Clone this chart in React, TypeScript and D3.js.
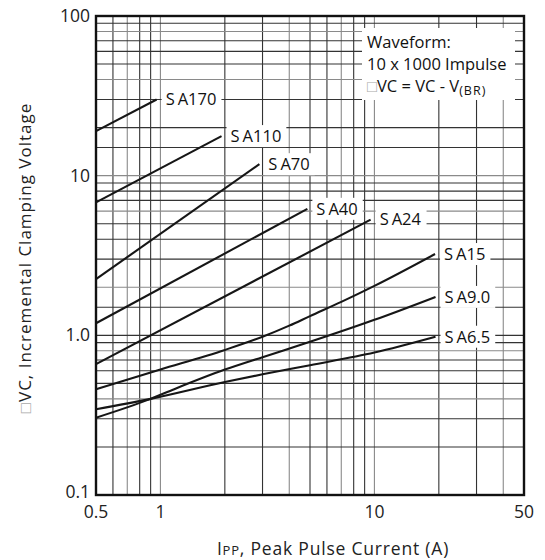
import React, { useEffect, useRef } from 'react';
import * as d3 from 'd3';

// peak pulse current (A) / incremental clamping voltage (V)
const seriesNames = ['SA170', 'SA110', 'SA70', 'SA40', 'SA24', 'SA15', 'SA9.0', 'SA6.5'];

const sa170I = [0.5, 0.96];
const sa170V = [19, 30];
const sa110I = [0.5, 1.93];
const sa110V = [6.8, 17.7];
const sa70I = [0.5, 2.9];
const sa70V = [2.25, 11.8];
const sa40I = [0.5, 4.86];
const sa40V = [1.19, 6.2];
const sa24I = [0.5, 9.6];
const sa24V = [0.66, 5.3];
const sa15I = [0.5, 1, 2, 3, 4, 5, 7, 10, 19.2];
const sa15V = [0.46, 0.61, 0.81, 0.98, 1.15, 1.32, 1.62, 2.04, 3.23];
const sa9I = [0.5, 0.9, 1.16, 2, 3, 5, 10, 19.3];
const sa9V = [0.305, 0.4, 0.46, 0.61, 0.73, 0.91, 1.25, 1.74];
const sa65I = [0.5, 0.9, 2, 3, 5, 10, 19.3];
const sa65V = [0.344, 0.4, 0.51, 0.57, 0.65, 0.78, 0.98];

const xTickValues = [0.5, 1, 10, 50];
const xTickLabels = ['0.5', '1', '10', '50'];
const yTickValues = [0.1, 1, 10, 100];
const yTickLabels = ['0.1', '1.0', '10', '100'];

const xGrid = [0.6, 0.7, 0.8, 0.9, 1, 2, 3, 4, 5, 6, 7, 8, 9, 10, 20, 30, 40];
const yGrid = [
  0.2, 0.3, 0.4, 0.5, 0.6, 0.7, 0.8, 0.9, 1,
  1.5, 2, 3, 4, 5, 6, 7, 8, 9, 10,
  15, 20, 30, 40, 50, 60, 70, 80, 90,
];

const noteLines = ['Waveform:', '10 x 1000 Impulse'];

const FONT = '"Open Sans", sans-serif';

const App: React.FC = () => {
  const ref = useRef<SVGSVGElement | null>(null);

  useEffect(() => {
    const W = 545;
    const H = 560;
    const margin = { top: 16, right: 21, bottom: 65, left: 96 };
    const width = W - margin.left - margin.right;
    const height = H - margin.top - margin.bottom;

    const root = d3.select(ref.current);
    root.selectAll('*').remove();
    root.attr('width', W).attr('height', H);

    const svg = root.append('g').attr('transform', `translate(${margin.left},${margin.top})`);

    const x = d3.scaleLog().domain([0.5, 50]).range([0, width]);
    const y = d3.scaleLog().domain([0.1, 100]).range([height, 0]);

    // grid
    svg.append('g')
      .selectAll('line')
      .data(xGrid)
      .enter()
      .append('line')
      .attr('x1', (d) => x(d))
      .attr('x2', (d) => x(d))
      .attr('y1', 0)
      .attr('y2', height)
      .attr('stroke', (d, i) => (i % 3 === 1 ? '#8a8a8a' : '#333'))
      .attr('stroke-width', 1.1);

    svg.append('g')
      .selectAll('line')
      .data(yGrid)
      .enter()
      .append('line')
      .attr('x1', 0)
      .attr('x2', width)
      .attr('y1', (d) => y(d))
      .attr('y2', (d) => y(d))
      .attr('stroke', (d, i) => (i % 4 === 2 ? '#8a8a8a' : '#333'))
      .attr('stroke-width', 1.1);

    const series = [
      [sa170I, sa170V],
      [sa110I, sa110V],
      [sa70I, sa70V],
      [sa40I, sa40V],
      [sa24I, sa24V],
      [sa15I, sa15V],
      [sa9I, sa9V],
      [sa65I, sa65V],
    ].map(([is, vs], k) => ({
      name: seriesNames[k],
      pts: is.map((c, j) => [c, vs[j]] as [number, number]),
    }));

    const line = d3.line<[number, number]>()
      .x((d) => x(d[0]))
      .y((d) => y(d[1]))
      .curve(d3.curveMonotoneX);

    // label boxes (mask the grid), then curves, then text
    const labels = svg.append('g');
    series.forEach((s) => {
      const last = s.pts[s.pts.length - 1];
      const lx = x(last[0]) + 9;
      const ly = y(last[1]);
      const g = labels.append('g');
      const t = g.append('text')
        .attr('x', lx)
        .attr('y', ly)
        .attr('dy', '0.35em')
        .attr('font-family', FONT)
        .attr('font-size', 16.5)
        .attr('fill', '#111');
      t.append('tspan').text(s.name.slice(0, 1));
      t.append('tspan').attr('dx', 3).text(s.name.slice(1));
      const bb = (t.node() as SVGTextElement).getBBox();
      g.insert('rect', 'text')
        .attr('x', lx - 4)
        .attr('y', ly - 11)
        .attr('width', bb.width + 9)
        .attr('height', 22)
        .attr('fill', '#fff');
    });

    svg.append('g')
      .selectAll('path')
      .data(series)
      .enter()
      .append('path')
      .attr('d', (d) => line(d.pts))
      .attr('fill', 'none')
      .attr('stroke', '#161616')
      .attr('stroke-width', 2.1);

    labels.raise();

    // note box
    const nx = 362 - margin.left;
    const ny = 28 - margin.top;
    svg.append('rect')
      .attr('x', nx)
      .attr('y', ny)
      .attr('width', 153)
      .attr('height', 72)
      .attr('fill', '#fff');
    noteLines.forEach((s, i) => {
      svg.append('text')
        .attr('x', nx + 5)
        .attr('y', ny + 19.5 + i * 22)
        .attr('font-family', FONT)
        .attr('font-size', 16.5)
        .attr('fill', '#111')
        .text(s);
    });
    const eq = svg.append('text')
      .attr('x', nx + 5)
      .attr('y', ny + 19.5 + 2 * 22)
      .attr('font-family', FONT)
      .attr('font-size', 16.5)
      .attr('fill', '#111');
    eq.append('tspan').attr('fill', '#aaa').text('□');
    eq.append('tspan').text('VC = VC - V');
    eq.append('tspan').attr('font-size', 12.5).attr('dy', 3).attr('letter-spacing', 1).text('(BR)');

    // frame
    svg.append('rect')
      .attr('x', 0)
      .attr('y', 0)
      .attr('width', width)
      .attr('height', height)
      .attr('fill', 'none')
      .attr('stroke', '#111')
      .attr('stroke-width', 2.4);

    // tick labels
    svg.append('g')
      .selectAll('text')
      .data(xTickValues)
      .enter()
      .append('text')
      .attr('x', (d) => x(d))
      .attr('y', height + 17)
      .attr('dy', '0.35em')
      .attr('text-anchor', 'middle')
      .attr('font-family', FONT)
      .attr('font-size', 17.5)
      .attr('fill', '#222')
      .text((d, i) => xTickLabels[i]);

    svg.append('g')
      .selectAll('text')
      .data(yTickValues)
      .enter()
      .append('text')
      .attr('x', -6)
      .attr('y', (d) => Math.min(y(d), height - 3))
      .attr('dy', '0.35em')
      .attr('text-anchor', 'end')
      .attr('font-family', FONT)
      .attr('font-size', 17.5)
      .attr('fill', '#222')
      .text((d, i) => yTickLabels[i]);

    // axis titles
    const xt = root.append('text')
      .attr('x', 333)
      .attr('y', 555)
      .attr('text-anchor', 'middle')
      .attr('font-family', FONT)
      .attr('font-size', 17.5)
      .attr('letter-spacing', 0.8)
      .attr('fill', '#222');
    xt.append('tspan').text('I');
    xt.append('tspan').attr('font-size', 13).text('PP');
    xt.append('tspan').text(', Peak Pulse Current (A)');

    const yt = root.append('text')
      .attr('transform', 'translate(31,258) rotate(-90)')
      .attr('text-anchor', 'middle')
      .attr('font-family', FONT)
      .attr('font-size', 17)
      .attr('letter-spacing', 1)
      .attr('fill', '#222');
    yt.append('tspan').attr('fill', '#aaa').text('□');
    yt.append('tspan').text('VC, Incremental Clamping Voltage');
  }, []);

  return <svg ref={ref} style={{ position: 'absolute', left: 0, top: 0 }}></svg>;
};

export default App;
